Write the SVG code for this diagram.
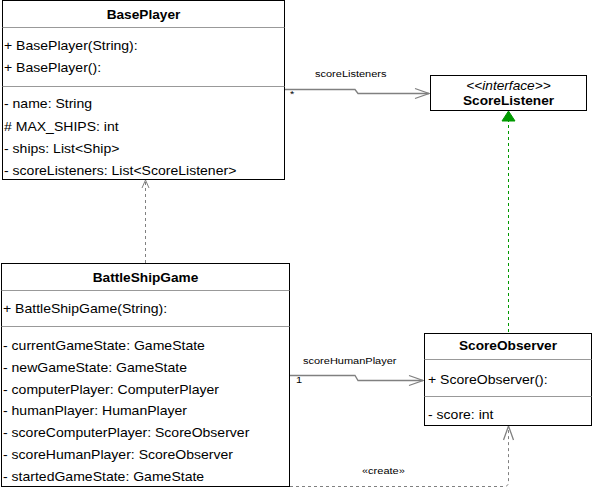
<svg xmlns="http://www.w3.org/2000/svg" width="593" height="502" viewBox="0 0 593 502">
<style>
.box{fill:#fff;stroke:#000;stroke-width:1}
.div{stroke:#999;stroke-width:1}
.t{font-family:"Liberation Sans",Arial,sans-serif;font-size:12px;fill:#000}
.b{font-weight:bold;text-anchor:middle}
.c{text-anchor:middle}
.lbl{font-family:"Liberation Sans",Arial,sans-serif;font-size:9.5px;fill:#000}
.conn{fill:none;stroke:#808080;stroke-width:1.3}
.dash{fill:none;stroke:#808080;stroke-width:1;stroke-dasharray:3 3}
.gdash{fill:none;stroke:#009900;stroke-width:1;stroke-dasharray:3 3}
</style>
<defs>
<marker id="open" markerWidth="16" markerHeight="12" refX="15" refY="6" orient="auto" markerUnits="userSpaceOnUse">
<path d="M1,1 L15,6 L1,11" fill="none" stroke="#808080" stroke-width="1.3"/>
</marker>
<marker id="opens" markerWidth="10" markerHeight="10" refX="9" refY="5" orient="auto" markerUnits="userSpaceOnUse">
<path d="M1,1.5 L9,5 L1,8.5" fill="none" stroke="#808080" stroke-width="1"/>
</marker>
<marker id="tri" markerWidth="12" markerHeight="16" refX="11" refY="8" orient="auto" markerUnits="userSpaceOnUse">
<path d="M1,1.5 L11,8 L1,14.5 Z" fill="#009900" stroke="#009900"/>
</marker>
</defs>
<rect width="593" height="502" fill="#fff"/>
<g id="connectors">
<path class="conn" d="M284.5,89.5 H355 L358,93.5 H429"/>
<path d="M415,88.5 L429,93.5 L415,98.5" fill="none" stroke="#808080" stroke-width="1.3"/>
<path class="conn" d="M289.5,375.5 H355 L358,380.5 H423"/>
<path d="M409,375.5 L423,380.5 L409,385.5" fill="none" stroke="#808080" stroke-width="1.3"/>
<path class="dash" d="M145.5,263 V180" marker-end="url(#opens)"/>
<path class="dash" d="M290,486.5 H504 Q508.5,486.5 508.5,482 V426" marker-end="url(#open)"/>
<path class="gdash" d="M508.5,332 V111" marker-end="url(#tri)"/>
<text class="lbl" transform="translate(315,77) scale(1.16,1)">scoreListeners</text>
<text class="lbl" transform="translate(290,97) scale(1.16,1)">*</text>
<text class="lbl" transform="translate(303,364) scale(1.16,1)">scoreHumanPlayer</text>
<text class="lbl" transform="translate(296,383) scale(1.16,1)">1</text>
<text class="lbl" transform="translate(362,474) scale(1.16,1)">«create»</text>
</g>
<g id="BasePlayer">
<rect class="box" x="2.5" y="0.5" width="282" height="179"/>
<line class="div" x1="2.5" y1="27.5" x2="284.5" y2="27.5"/>
<line class="div" x1="2.5" y1="86.5" x2="284.5" y2="86.5"/>
<text class="t b" transform="translate(143.5,19) scale(1.14,1)">BasePlayer</text>
<text class="t" transform="translate(4,50) scale(1.17,1)">+ BasePlayer(String):</text>
<text class="t" transform="translate(4,72) scale(1.17,1)">+ BasePlayer():</text>
<text class="t" transform="translate(4,108) scale(1.17,1)">- name: String</text>
<text class="t" transform="translate(4,131) scale(1.17,1)"># MAX_SHIPS: int</text>
<text class="t" transform="translate(4,153) scale(1.17,1)">- ships: List&lt;Ship&gt;</text>
<text class="t" transform="translate(4,175) scale(1.17,1)">- scoreListeners: List&lt;ScoreListener&gt;</text>
</g>
<g id="ScoreListener">
<rect class="box" x="430.5" y="75.5" width="156" height="35"/>
<text class="t c" font-style="italic" transform="translate(508.5,90) scale(1.14,1)">&lt;&lt;interface&gt;&gt;</text>
<text class="t b" transform="translate(508.5,105) scale(1.14,1)">ScoreListener</text>
</g>
<g id="BattleShipGame">
<rect class="box" x="1.5" y="263.5" width="288" height="223"/>
<line class="div" x1="1.5" y1="290.5" x2="289.5" y2="290.5"/>
<line class="div" x1="1.5" y1="326.5" x2="289.5" y2="326.5"/>
<text class="t b" transform="translate(145.5,282) scale(1.14,1)">BattleShipGame</text>
<text class="t" transform="translate(3,313) scale(1.17,1)">+ BattleShipGame(String):</text>
<text class="t" transform="translate(3,350) scale(1.17,1)">- currentGameState: GameState</text>
<text class="t" transform="translate(3,372) scale(1.17,1)">- newGameState: GameState</text>
<text class="t" transform="translate(3,394) scale(1.17,1)">- computerPlayer: ComputerPlayer</text>
<text class="t" transform="translate(3,415) scale(1.17,1)">- humanPlayer: HumanPlayer</text>
<text class="t" transform="translate(3,437) scale(1.17,1)">- scoreComputerPlayer: ScoreObserver</text>
<text class="t" transform="translate(3,459) scale(1.17,1)">- scoreHumanPlayer: ScoreObserver</text>
<text class="t" transform="translate(3,481) scale(1.17,1)">- startedGameState: GameState</text>
</g>
<g id="ScoreObserver">
<rect class="box" x="424.5" y="333.5" width="167" height="92"/>
<line class="div" x1="424.5" y1="359.5" x2="591.5" y2="359.5"/>
<line class="div" x1="424.5" y1="396.5" x2="591.5" y2="396.5"/>
<text class="t b" transform="translate(508,350) scale(1.14,1)">ScoreObserver</text>
<text class="t" transform="translate(428,384) scale(1.17,1)">+ ScoreObserver():</text>
<text class="t" transform="translate(428,419) scale(1.17,1)">- score: int</text>
</g>
</svg>
